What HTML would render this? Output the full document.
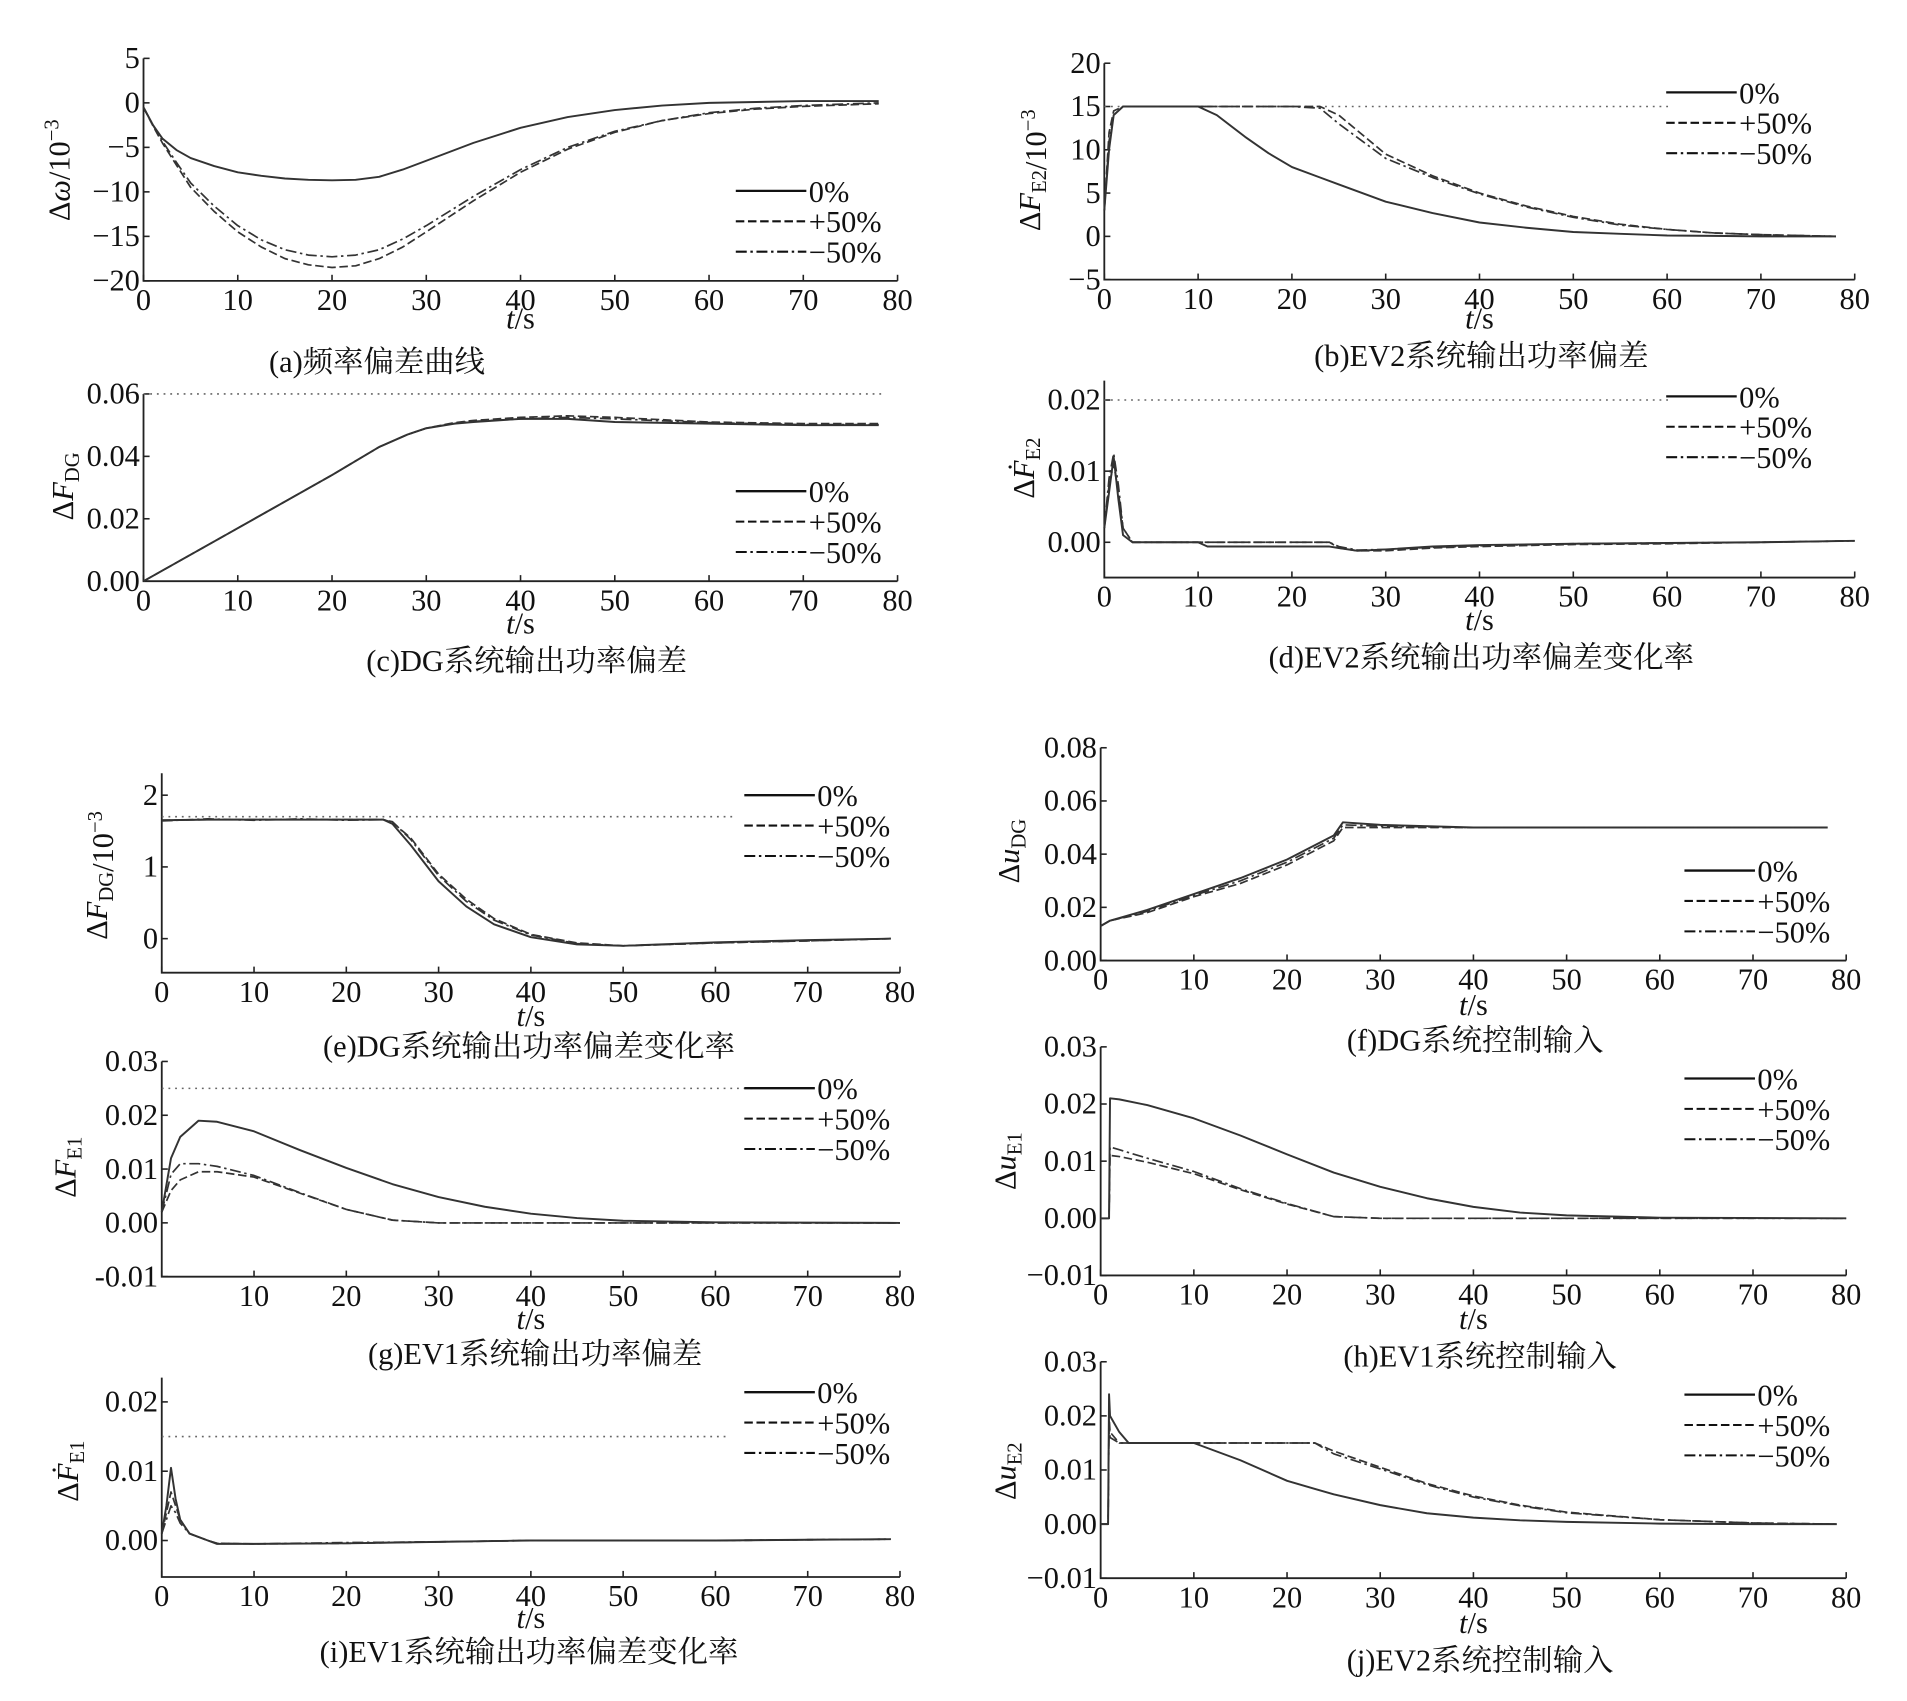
<!DOCTYPE html>
<html><head><meta charset="utf-8"><style>
html,body{margin:0;padding:0;background:#fff;}
svg{display:block;}
text{font-family:"Liberation Serif","Noto Serif CJK SC",serif;fill:#111;}
</style></head><body>
<svg id="fig" width="1907" height="1701" viewBox="0 0 1568 1399" preserveAspectRatio="none" xmlns="http://www.w3.org/2000/svg"></svg>
<script>
// ---- data ----
const tA=[0,1,2,3.5,5,7.5,10,12.5,15,17.5,20,22.5,25,27.5,30,35,40,45,50,55,60,65,70,78];
const a0=[-0.5,-2.5,-4,-5.3,-6.2,-7.1,-7.8,-8.2,-8.5,-8.65,-8.7,-8.65,-8.3,-7.5,-6.5,-4.5,-2.8,-1.6,-0.8,-0.3,0,0.1,0.2,0.2];
const aP=[-0.5,-2.6,-4.5,-7,-9.5,-12.2,-14.5,-16.2,-17.5,-18.2,-18.5,-18.3,-17.5,-16.2,-14.5,-11,-7.8,-5.2,-3.3,-2,-1.2,-0.7,-0.4,-0.1];
const aM=[-0.5,-2.5,-4.3,-6.7,-9,-11.6,-13.8,-15.4,-16.5,-17.1,-17.3,-17.1,-16.5,-15.3,-13.8,-10.5,-7.5,-5,-3.2,-2,-1.1,-0.6,-0.3,0];
const tB=[0,0.5,1,2,10,12,15,17.5,20,23,25,30,35,40,45,50,55,60,65,70,78];
const b0=[3,10,14,15,15,14,11.5,9.6,8,6.8,6,4,2.7,1.6,1,0.5,0.3,0.1,0.05,0,0];
const bP=[3,12,14.5,15,15,15,15,15,15,15,14,9.5,7,5,3.5,2.3,1.4,0.8,0.4,0.2,0];
const bM=[3,11,14,15,15,15,15,15,15,14.8,13,9,6.8,4.9,3.4,2.2,1.3,0.8,0.4,0.2,0];
const tC=[0,10,20,25,28,30,33,35,40,45,50,60,70,78];
const c0=[0,0.017,0.034,0.043,0.047,0.049,0.0505,0.051,0.052,0.052,0.051,0.0505,0.05,0.05];
const cP=[0,0.017,0.034,0.043,0.047,0.049,0.0508,0.0515,0.0525,0.053,0.0525,0.051,0.0505,0.0505];
const cM=[0,0.017,0.034,0.043,0.047,0.049,0.0506,0.0512,0.052,0.0525,0.052,0.0508,0.0502,0.0502];
const tD=[0,0.5,1,1.5,2,3,10,11,20,24,25,27,30,35,40,50,60,70,80];
const d0=[0.002,0.007,0.012,0.006,0.001,0,0,-0.0006,-0.0006,-0.0006,-0.0008,-0.0012,-0.001,-0.0006,-0.0004,-0.0002,-0.0001,0,0.0002];
const dP=[0.002,0.008,0.011,0.007,0.002,0,0,0,0,0,-0.0008,-0.0012,-0.0012,-0.0008,-0.0006,-0.0003,-0.0002,0,0.0002];
const dM=[0.002,0.009,0.0125,0.008,0.002,0,0,0,0,0,-0.0006,-0.0011,-0.001,-0.0007,-0.0005,-0.0002,-0.0001,0,0.0002];
const tE=[0,5,10,15,20,24,25,27,30,33,36,40,45,50,60,70,79];
const e0=[1.65,1.66,1.66,1.66,1.66,1.66,1.6,1.3,0.8,0.45,0.2,0.02,-0.08,-0.1,-0.05,-0.02,0];
const eP=[1.65,1.66,1.66,1.66,1.66,1.66,1.62,1.4,0.9,0.55,0.28,0.06,-0.06,-0.1,-0.06,-0.03,0];
const eM=[1.64,1.67,1.65,1.67,1.65,1.66,1.63,1.38,0.88,0.52,0.26,0.05,-0.07,-0.1,-0.06,-0.03,0];
const tF=[0,1,5,10,15,20,25,26,30,40,50,78];
const f0=[0.013,0.015,0.019,0.025,0.031,0.038,0.047,0.052,0.051,0.050,0.05,0.05];
const fP=[0.013,0.015,0.018,0.024,0.029,0.036,0.045,0.050,0.050,0.050,0.05,0.05];
const fM=[0.013,0.015,0.0185,0.0245,0.030,0.037,0.046,0.051,0.0505,0.050,0.05,0.05];
const tG=[0,1,2,4,6,10,15,20,25,30,35,40,45,50,60,80];
const g0=[0.002,0.012,0.016,0.019,0.0188,0.017,0.0135,0.0102,0.0072,0.0048,0.003,0.0017,0.0009,0.0004,0.0001,0];
const gP=[0.002,0.006,0.008,0.0095,0.0095,0.0085,0.0055,0.0025,0.0005,0,0,0,0,0,0,0];
const gM=[0.002,0.009,0.011,0.011,0.0105,0.0088,0.0056,0.0025,0.0005,0,0,0,0,0,0,0];
const tH=[0,0.9,1,2,5,10,15,20,25,30,35,40,45,50,60,80];
const h0=[0,0,0.021,0.0208,0.0198,0.0175,0.0145,0.0112,0.008,0.0055,0.0035,0.002,0.001,0.0005,0.0001,0];
const hP=[0,0,0.011,0.0108,0.0098,0.0078,0.005,0.0025,0.0003,0,0,0,0,0,0,0];
const hM=[0,0,0.0125,0.012,0.0105,0.0082,0.0052,0.0026,0.0003,0,0,0,0,0,0,0];
const tI=[0,0.5,1,1.5,2,3,5,6,10,20,30,40,50,60,70,79];
const i0=[0.001,0.005,0.0105,0.006,0.003,0.001,0,-0.0005,-0.0005,-0.0004,-0.0002,0,0,0,0.0001,0.0002];
const iP=[0.001,0.004,0.007,0.005,0.003,0.001,0,-0.0004,-0.0005,-0.0004,-0.0002,0,0,0,0.0001,0.0002];
const iM=[0.001,0.003,0.005,0.004,0.0025,0.001,0,-0.0004,-0.0005,-0.0003,-0.0002,0,0,0,0.0001,0.0002];
const tJ=[0,0.8,0.9,1,2,3,10,15,20,23,25,30,35,40,45,50,60,70,79];
const j0=[0,0,0.024,0.02,0.017,0.015,0.015,0.0118,0.008,0.0065,0.0055,0.0035,0.002,0.0012,0.0007,0.0004,0.0001,0,0];
const jP=[0,0,0.02,0.017,0.015,0.015,0.015,0.015,0.015,0.015,0.0135,0.0105,0.0075,0.0052,0.0035,0.0022,0.0008,0.0002,0];
const jM=[0,0,0.019,0.016,0.015,0.015,0.015,0.015,0.015,0.015,0.013,0.0102,0.0073,0.005,0.0034,0.0021,0.0008,0.0002,0];
const xTicks=[0,10,20,30,40,50,60,70,80];
const legendLabels=["0%","+50%","\u221250%"];
const yA=[5,0,-5,-10,-15,-20], yALab=["5","0","\u22125","\u221210","\u221215","\u221220"];
const yB=[20,15,10,5,0,-5], yBLab=["20","15","10","5","0","\u22125"];
const yC=[0.06,0.04,0.02,0], yCLab=["0.06","0.04","0.02","0.00"];
const yD=[0.02,0.01,0], yDLab=["0.02","0.01","0.00"];
const yE=[2,1,0], yELab=["2","1","0"];
const yF=[0.08,0.06,0.04,0.02,0], yFLab=["0.08","0.06","0.04","0.02","0.00"];
const yG=[0.03,0.02,0.01,0,-0.01], yGLab=["0.03","0.02","0.01","0.00","-0.01"];
const yJ=[0.03,0.02,0.01,0,-0.01], yJLab=["0.03","0.02","0.01","0.00","\u22120.01"];
const yI=[0.02,0.01,0], yILab=["0.02","0.01","0.00"];

const NS="http://www.w3.org/2000/svg";
const svg=document.getElementById('fig');
function el(tag,attrs,parent){const e=document.createElementNS(NS,tag);for(const k in attrs)e.setAttribute(k,attrs[k]);(parent||svg).appendChild(e);return e;}
const styles=[{dash:"none",w:1.6},{dash:"7,3",w:1.4},{dash:"9,3,2,3",w:1.4}];

const panels=[
 {id:"a",x0:118,x1:738,v1:5,p1:48,v2:-20,p2:231,top:48,bot:231,yt:yA,yl:yALab,t:tA,s:[a0,aP,aM],lx:605,ly:157,ts:262,cap:"(a)频率偏差曲线",cy:297,cx:310,ttl:["Δ",["i","ω"],"/10",["sup","−3"]],tx:57,ty:140,x0lab:true},
 {id:"b",x0:908,x1:1525,v1:20,p1:52,v2:-5,p2:230,top:52,bot:230,yt:yB,yl:yBLab,t:tB,s:[b0,bP,bM],dot:15,dotEnd:1375,lx:1370,ly:76,ts:262,cap:"(b)EV2系统输出功率偏差",cy:292,cx:1218,ttl:["Δ",["i","F"],["sub","E2"],"/10",["sup","−3"]],tx:855,ty:140,x0lab:true},
 {id:"c",x0:118,x1:738,v1:0.06,p1:324,v2:0,p2:478,top:324,bot:478,yt:yC,yl:yCLab,t:tC,s:[c0,cP,cM],dot:0.06,dotEnd:725,lx:605,ly:404,ts:513,cap:"(c)DG系统输出功率偏差",cy:543,cx:433,ttl:["Δ",["i","F"],["sub","DG"]],tx:60,ty:400,x0lab:true},
 {id:"d",x0:908,x1:1525,v1:0.02,p1:329,v2:0,p2:446,top:313,bot:475,yt:yD,yl:yDLab,t:tD,s:[d0,dP,dM],dot:0.02,dotEnd:1375,lx:1370,ly:326,ts:510,cap:"(d)EV2系统输出功率偏差变化率",cy:540,cx:1218,ttl:["Δ",["i","Ḟ"],["sub","E2"]],tx:850,ty:385,x0lab:true},
 {id:"e",x0:133,x1:740,v1:2,p1:654,v2:0,p2:772,top:636,bot:800,yt:yE,yl:yELab,t:tE,s:[e0,eP,eM],dot:1.7,dotEnd:605,lx:612,ly:654,ts:836,cap:"(e)DG系统输出功率偏差变化率",cy:860,cx:435,ttl:["Δ",["i","F"],["sub","DG"],"/10",["sup","−3"]],tx:88,ty:720,x0lab:true},
 {id:"f",x0:905,x1:1518,v1:0.08,p1:615,v2:0,p2:790,top:615,bot:790,yt:yF,yl:yFLab,t:tF,s:[f0,fP,fM],lx:1385,ly:716,ts:827,cap:"(f)DG系统控制输入",cy:855,cx:1213,ttl:["Δ",["i","u"],["sub","DG"]],tx:838,ty:700,x0lab:true},
 {id:"g",x0:133,x1:740,v1:0.03,p1:873,v2:-0.01,p2:1050,top:873,bot:1050,yt:yG,yl:yGLab,t:tG,s:[g0,gP,gM],dot:0.025,dotEnd:622,lx:612,ly:895,ts:1085,cap:"(g)EV1系统输出功率偏差",cy:1113,cx:440,ttl:["Δ",["i","F"],["sub","E1"]],tx:62,ty:960,x0lab:false},
 {id:"h",x0:905,x1:1518,v1:0.03,p1:861,v2:-0.01,p2:1049,top:861,bot:1049,yt:yJ,yl:yJLab,t:tH,s:[h0,hP,hM],lx:1385,ly:887,ts:1085,cap:"(h)EV1系统控制输入",cy:1115,cx:1217,ttl:["Δ",["i","u"],["sub","E1"]],tx:835,ty:955,x0lab:true},
 {id:"i",x0:133,x1:740,v1:0.02,p1:1153,v2:0,p2:1267,top:1133,bot:1297,yt:yI,yl:yILab,t:tI,s:[i0,iP,iM],dot:0.015,dotEnd:600,lx:612,ly:1145,ts:1331,cap:"(i)EV1系统输出功率偏差变化率",cy:1358,cx:435,ttl:["Δ",["i","Ḟ"],["sub","E1"]],tx:64,ty:1210,x0lab:true},
 {id:"j",x0:905,x1:1518,v1:0.03,p1:1120,v2:-0.01,p2:1298,top:1120,bot:1298,yt:yJ,yl:yJLab,t:tJ,s:[j0,jP,jM],lx:1385,ly:1147,ts:1335,cap:"(j)EV2系统控制输入",cy:1365,cx:1217,ttl:["Δ",["i","u"],["sub","E2"]],tx:835,ty:1210,x0lab:true}
];

panels.forEach(P=>{
  const g=el('g',{});
  
  
  const X=v=>P.x0+(v/80)*(P.x1-P.x0);
  const Y=v=>P.p1+(v-P.v1)*(P.p2-P.p1)/(P.v2-P.v1);
  const ax=el('path',{d:`M${P.x0},${P.top}V${P.bot}H${P.x1}`,fill:'none',stroke:'#222','stroke-width':1.5},g);
  
  
  xTicks.forEach(v=>{
    el('line',{x1:X(v),x2:X(v),y1:P.bot,y2:P.bot-5,stroke:'#222','stroke-width':1.3},g);
    if(v===0&&!P.x0lab)return;
    const t=el('text',{x:X(v),y:P.bot+24,'text-anchor':'middle','font-size':25},g);
    t.textContent=v;
    
    
  });
  P.yt.forEach((v,k)=>{
    el('line',{x1:P.x0,x2:P.x0+5,y1:Y(v),y2:Y(v),stroke:'#222','stroke-width':1.3},g);
    const t=el('text',{x:P.x0-3,y:Y(v)+8,'text-anchor':'end','font-size':25},g);
    t.textContent=P.yl[k];
    
    
  });
  if(P.dot!==undefined){
    const d=el('line',{x1:P.x0,x2:P.dotEnd,y1:Y(P.dot),y2:Y(P.dot),stroke:'#666','stroke-width':1.3,'stroke-dasharray':'1.5,4'},g);
    
    
  }
  P.s.forEach((arr,k)=>{
    const pts=arr.map((v,i)=>X(P.t[i]).toFixed(1)+','+Y(v).toFixed(1)).join(' ');
    const pl=el('polyline',{points:pts,fill:'none',stroke:'#333','stroke-width':styles[k].w,'stroke-dasharray':styles[k].dash,'stroke-linejoin':'round'},g);
    
    
  });
  legendLabels.forEach((lab,k)=>{
    const y=P.ly+k*25;
    const ln=el('line',{x1:P.lx,x2:P.lx+58,y1:y,y2:y,stroke:'#111','stroke-width':styles[k].w+0.3,'stroke-dasharray':styles[k].dash},g);
    
    
    const t=el('text',{x:P.lx+60,y:y+9,'font-size':25},g);
    t.textContent=lab;
    
    
  });
  const xt=el('text',{x:(P.x0+P.x1)/2,y:P.ts+8,'text-anchor':'middle','font-size':25},g);
  
  
  const ti=el('tspan',{'font-style':'italic'},xt);ti.textContent='t';
  const ts=el('tspan',{},xt);ts.textContent='/s';
  const cp=el('text',{x:P.cx,y:P.cy+9,'text-anchor':'middle','font-size':25},g);
  cp.textContent=P.cap;
  
  
  const yt=el('text',{x:0,y:0,'text-anchor':'middle','font-size':25,transform:`translate(${P.tx},${P.ty}) rotate(-90)`},g);
  
  
  P.ttl.forEach(part=>{
    let sp;
    if(typeof part==='string'){sp=el('tspan',{},yt);sp.textContent=part;}
    else if(part[0]==='i'){sp=el('tspan',{'font-style':'italic'},yt);sp.textContent=part[1];}
    else if(part[0]==='sub'){sp=el('tspan',{'font-size':17,dy:5},yt);sp.textContent=part[1];el('tspan',{dy:-5},yt).textContent='';}
    else {sp=el('tspan',{'font-size':17,dy:-9},yt);sp.textContent=part[1];el('tspan',{dy:9},yt).textContent='';}
  });
});
</script>
</body></html>
